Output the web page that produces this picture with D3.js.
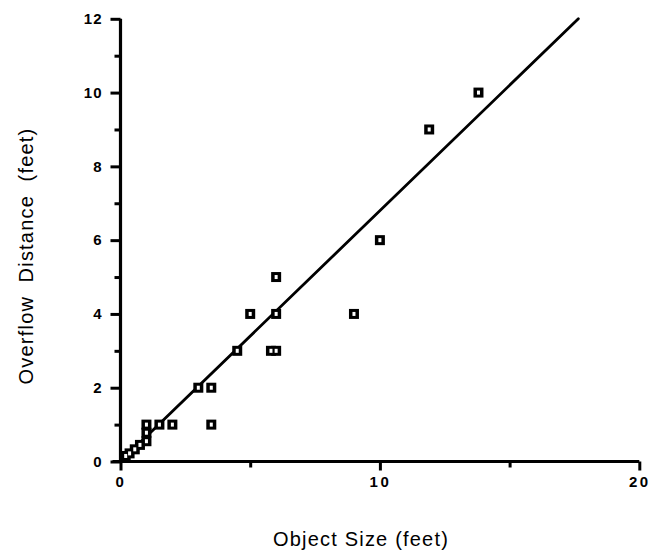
<!DOCTYPE html>
<html>
<head>
<meta charset="utf-8">
<script src="https://cdn.jsdelivr.net/npm/d3@7"></script>
<style>
  html, body { margin: 0; padding: 0; background: #fff; }
  svg { display: block; }
  text { font-family: "Liberation Sans", Arial, Helvetica, sans-serif; fill: #000; }
  .tick text { font-size: 15px; font-weight: bold; }
</style>
</head>
<body>
<svg id="chart" width="651" height="552"></svg>
<script>
// ---- data ----
const objectSize      = [0.2, 0.35, 0.55, 0.75, 1, 1, 1, 1.5, 2, 3, 3.5, 3.5, 4.5, 5, 5.8, 6, 6, 6, 9, 10, 11.9, 13.8];
const overflowDistance = [0.15, 0.22, 0.33, 0.45, 0.55, 0.78, 1, 1, 1, 2, 2, 1, 3, 4, 3, 3, 4, 5, 4, 6, 9, 10];
const fitLineX = [0, 17.65];
const fitLineY = [0, 12];
const xMajorTicks = [0, 10, 20];
const xMinorTicks = [5, 15];
const yMajorTicks = [0, 2, 4, 6, 8, 10, 12];
const yMinorTicks = [1, 3, 5, 7, 9, 11];
const xTitle = "Object Size (feet)";
const yTitle = "Overflow  Distance  (feet)";

const svg = d3.select("#chart");
const x = d3.scaleLinear().domain([0, 20]).range([120.5, 639.3]);
const y = d3.scaleLinear().domain([0, 12]).range([461.5, 18.8]);

// minor ticks
svg.append("g").attr("transform", `translate(0,${y(0)})`)
  .call(d3.axisBottom(x).tickValues(xMinorTicks).tickSize(6).tickFormat(""))
  .call(g => g.select(".domain").remove())
  .selectAll("line").attr("stroke-width", 3);
svg.append("g").attr("transform", `translate(${x(0)},0)`)
  .call(d3.axisLeft(y).tickValues(yMinorTicks).tickSize(6).tickFormat(""))
  .call(g => g.select(".domain").remove())
  .selectAll("line").attr("stroke-width", 3);

// major x axis
const gx = svg.append("g").attr("transform", `translate(0,${y(0)})`)
  .call(d3.axisBottom(x).tickValues(xMajorTicks).tickSize(9).tickPadding(6).tickSizeOuter(0).tickFormat(d3.format("d")));
gx.select(".domain").attr("stroke-width", 3).attr("d", `M${x(0) - 8},0H${x(20)}`);
gx.selectAll("line").attr("stroke-width", 3);
gx.selectAll("text").style("letter-spacing", "2.5px").attr("dx", 0);

// major y axis
const gy = svg.append("g").attr("transform", `translate(${x(0)},0)`)
  .call(d3.axisLeft(y).tickValues(yMajorTicks).tickSize(10).tickPadding(8).tickSizeOuter(0).tickFormat(d3.format("d")));
gy.select(".domain").attr("stroke-width", 3.2).attr("d", `M0,${y(0)}V${y(12)}`);
gy.selectAll("line").attr("stroke-width", 3);
gy.selectAll("text").style("letter-spacing", "1px");

// fit line
svg.append("line")
  .attr("x1", x(fitLineX[0])).attr("y1", y(fitLineY[0]))
  .attr("x2", x(fitLineX[1])).attr("y2", y(fitLineY[1]))
  .attr("stroke", "#000").attr("stroke-width", 2.8).attr("stroke-linecap", "round");

// points
const pts = objectSize.map((d, i) => ({ x: d, y: overflowDistance[i] }));
const s = 10;
const gp = svg.append("g");
gp.selectAll("rect.outer").data(pts).join("rect").attr("class", "outer")
  .attr("x", d => x(d.x) - s / 2).attr("y", d => y(d.y) - s / 2)
  .attr("width", s).attr("height", s).attr("fill", "#000");
gp.selectAll("rect.inner").data(pts).join("rect").attr("class", "inner")
  .attr("x", d => x(d.x) - 1.5).attr("y", d => y(d.y) - 2)
  .attr("width", 3).attr("height", 4).attr("fill", "#fff");

// titles
svg.append("text").attr("x", 361).attr("y", 546).attr("text-anchor", "middle")
  .style("font-size", "20px").style("letter-spacing", "1.2px").text(xTitle);
svg.append("text").attr("transform", "translate(33,256) rotate(-90)")
  .attr("text-anchor", "middle").style("font-size", "20px").style("letter-spacing", "1.2px")
  .style("white-space", "pre").text(yTitle);
</script>
</body>
</html>
